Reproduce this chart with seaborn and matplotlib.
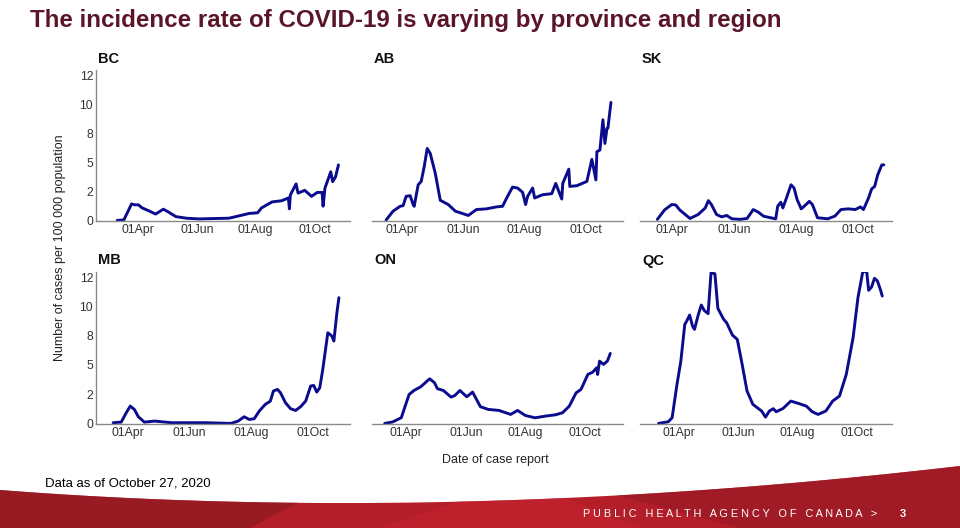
import numpy as np
import pandas as pd
import matplotlib
matplotlib.use("Agg")
import matplotlib.pyplot as plt
import matplotlib.dates as mdates
from matplotlib.patches import Polygon
import seaborn as sns

# ---- data (rate per 100 000, 2020) ----
provinces = ["BC", "AB", "SK", "MB", "ON", "QC"]

bc_dates = ["03-10", "03-17", "03-25", "03-28", "04-01", "04-05", "04-10", "04-19", "04-27",
            "05-02", "05-10", "05-21", "06-03", "06-17", "07-04", "07-15", "07-25", "08-03",
            "08-07", "08-18", "08-28", "09-04", "09-05", "09-06", "09-12", "09-14", "09-21",
            "09-28", "10-04", "10-09", "10-10", "10-12", "10-18", "10-20", "10-23", "10-26"]
bc_rate = [0.0, 0.05, 1.43, 1.35, 1.35, 1.08, 0.9, 0.55, 0.97,
           0.74, 0.33, 0.19, 0.13, 0.16, 0.19, 0.4, 0.6, 0.66,
           1.08, 1.6, 1.7, 1.94, 1.0, 2.2, 3.16, 2.36, 2.6,
           2.08, 2.42, 2.42, 1.23, 2.8, 4.2, 3.35, 3.77, 4.8]

ab_dates = ["03-16", "03-23", "03-30", "04-02", "04-05", "04-09", "04-12", "04-13", "04-17",
            "04-20", "04-23", "04-26", "04-29", "05-04", "05-09", "05-17", "05-24", "05-31",
            "06-06", "06-14", "06-24", "07-04", "07-10", "07-15", "07-20", "07-25", "07-30",
            "08-02", "08-04", "08-09", "08-11", "08-19", "08-28", "09-01", "09-07", "09-08",
            "09-14", "09-15", "09-22", "10-02", "10-07", "10-11", "10-12", "10-15", "10-18",
            "10-20", "10-22", "10-23", "10-26"]
ab_rate = [0.03, 0.8, 1.22, 1.28, 2.08, 2.14, 1.37, 1.22, 3.08,
           3.37, 4.65, 6.22, 5.79, 4.08, 1.74, 1.37, 0.8, 0.6,
           0.43, 0.94, 1.0, 1.17, 1.22, 2.08, 2.88, 2.8, 2.43,
           1.37, 2.08, 2.8, 1.94, 2.22, 2.31, 3.2, 1.85, 3.2,
           4.43, 2.94, 3.0, 3.37, 5.28, 3.5, 5.94, 6.08, 8.7,
           6.65, 7.94, 8.0, 10.2]

sk_dates = ["03-18", "03-25", "04-01", "04-05", "04-09", "04-19", "04-27", "05-04", "05-07",
            "05-10", "05-15", "05-20", "05-25", "05-30", "06-07", "06-14", "06-20", "06-25",
            "06-30", "07-07", "07-12", "07-14", "07-17", "07-19", "07-22", "07-27", "07-30",
            "08-02", "08-06", "08-09", "08-14", "08-17", "08-22", "09-01", "09-08", "09-14",
            "09-21", "09-28", "10-03", "10-06", "10-11", "10-14", "10-17", "10-20", "10-24",
            "10-26"]
sk_rate = [0.09, 0.9, 1.37, 1.34, 0.9, 0.17, 0.51, 1.08, 1.71,
           1.37, 0.51, 0.31, 0.43, 0.14, 0.09, 0.17, 0.94, 0.71,
           0.37, 0.23, 0.14, 1.23, 1.57, 1.08, 1.8, 3.08, 2.8,
           1.8, 1.0, 1.23, 1.65, 1.37, 0.23, 0.14, 0.37, 0.94,
           1.0, 0.94, 1.17, 0.94, 1.94, 2.71, 2.94, 3.94, 4.8,
           4.8]

mb_dates = ["03-17", "03-25", "03-30", "04-03", "04-07", "04-11", "04-17", "04-27", "05-14",
            "06-16", "07-12", "07-19", "07-25", "07-30", "08-04", "08-09", "08-15", "08-20",
            "08-23", "08-27", "08-30", "09-04", "09-09", "09-14", "09-19", "09-24", "09-29",
            "10-02", "10-05", "10-08", "10-11", "10-16", "10-20", "10-22", "10-25", "10-27"]
mb_rate = [0.06, 0.11, 0.91, 1.48, 1.2, 0.57, 0.11, 0.2, 0.06,
           0.06, 0.0, 0.2, 0.57, 0.34, 0.4, 1.06, 1.63, 1.91,
           2.77, 2.91, 2.63, 1.77, 1.26, 1.11, 1.43, 1.91, 3.2,
           3.25, 2.68, 3.05, 4.62, 7.76, 7.48, 7.05, 9.47, 10.76]

on_dates = ["03-10", "03-18", "03-27", "04-04", "04-09", "04-16", "04-25", "04-30", "05-03",
            "05-09", "05-17", "05-21", "05-26", "06-02", "06-08", "06-16", "06-24", "07-05",
            "07-17", "07-24", "08-01", "08-11", "08-22", "09-01", "09-08", "09-15", "09-22",
            "09-27", "10-04", "10-09", "10-13", "10-14", "10-16", "10-20", "10-24", "10-27"]
on_rate = [0.0, 0.12, 0.49, 2.48, 2.82, 3.14, 3.82, 3.48, 2.97,
           2.82, 2.25, 2.4, 2.82, 2.28, 2.68, 1.43, 1.2, 1.11,
           0.77, 1.11, 0.68, 0.48, 0.63, 0.74, 0.91, 1.48, 2.62,
           2.91, 4.19, 4.39, 4.76, 4.19, 5.33, 5.05, 5.33, 5.99]

qc_dates = ["03-11", "03-21", "03-25", "03-30", "04-03", "04-07", "04-09", "04-12", "04-15",
            "04-17", "04-21", "04-24", "04-27", "05-01", "05-04", "05-08", "05-11", "05-17",
            "05-20", "05-26", "05-31", "06-05", "06-10", "06-16", "06-25", "06-29", "07-03",
            "07-07", "07-10", "07-17", "07-25", "08-03", "08-10", "08-16", "08-22", "08-30",
            "09-06", "09-13", "09-20", "09-27", "10-02", "10-07", "10-11", "10-13", "10-16",
            "10-19", "10-22", "10-25", "10-27"]
qc_rate = [0.0, 0.14, 0.48, 3.34, 5.34, 8.47, 8.76, 9.27, 8.33,
           8.05, 9.33, 10.13, 9.67, 9.39, 12.9, 12.8, 9.85, 8.9,
           8.62, 7.56, 7.19, 5.05, 2.77, 1.63, 1.06, 0.54, 1.06,
           1.26, 1.0, 1.28, 1.91, 1.68, 1.48, 1.0, 0.77, 1.06,
           1.91, 2.34, 4.19, 7.33, 10.76, 12.99, 12.99, 11.39, 11.67,
           12.42, 12.19, 11.47, 10.9]

# each facet has its own date range on the original
x_ranges = {"BC": ("02-17", "11-07"), "AB": ("03-02", "11-07"), "SK": ("03-01", "11-03"),
            "MB": ("02-29", "11-07"), "ON": ("02-26", "11-09"), "QC": ("02-21", "11-06")}

x_ticks = ["04-01", "06-01", "08-01", "10-01"]
y_ticks = [0, 2.5, 5, 7.5, 10, 12.5]
y_tick_labels = ["0", "2", "5", "8", "10", "12"]

series = {"BC": (bc_dates, bc_rate), "AB": (ab_dates, ab_rate), "SK": (sk_dates, sk_rate),
          "MB": (mb_dates, mb_rate), "ON": (on_dates, on_rate), "QC": (qc_dates, qc_rate)}

frames = []
for prov, (d, r) in series.items():
    frames.append(pd.DataFrame({"province": prov,
                                "date": pd.to_datetime(["2020-" + s for s in d]),
                                "rate": r}))
df = pd.concat(frames, ignore_index=True)

# ---- figure ----
sns.set_theme(style="white")
plt.rcParams["font.family"] = ["Liberation Sans", "DejaVu Sans"]

W, H = 960, 528
fig = plt.figure(figsize=(W / 100, H / 100), dpi=100)
fig.patch.set_facecolor("white")

# background layer for slide decoration (pixel coords)
bg = fig.add_axes([0, 0, 1, 1])
bg.set_xlim(0, W)
bg.set_ylim(H, 0)
bg.axis("off")

t = np.linspace(0, 1, 200)
cx = 2 * (1 - t) * t * 450 + t ** 2 * 960
cy = (1 - t) ** 2 * 490 + 2 * (1 - t) * t * 525 + t ** 2 * 466
band = Polygon(np.column_stack([np.r_[cx, 960, 0], np.r_[cy, 528, 528]]), closed=True,
               facecolor="#b41e29", edgecolor="none")
bg.add_patch(band)
for pts, col in [([[0, 480], [340, 480], [250, 528], [0, 528]], "#8f1a22"),
                 ([[560, 480], [960, 440], [960, 528], [740, 528]], "#9b1b25"),
                 ([[380, 528], [520, 480], [640, 528]], "#c2232d")]:
    p = Polygon(pts, closed=True, facecolor=col, edgecolor="none", alpha=0.75)
    bg.add_patch(p)
    p.set_clip_path(band)

fig.text(30 / W, 1 - 20 / H, "The incidence rate of COVID-19 is varying by province and region",
         fontsize=17.4, fontweight="bold", color="#5a1528", va="center", ha="left")
fig.text(45 / W, 1 - 483 / H, "Data as of October 27, 2020", fontsize=9.5,
         color="black", va="center", ha="left")
fig.text(583 / W, 1 - 514 / H, "P U B L I C   H E A L T H   A G E N C Y   O F   C A N A D A   >",
         fontsize=7.8, color="white", va="center", ha="left")
fig.text(903 / W, 1 - 514 / H, "3", fontsize=8, fontweight="bold", color="white",
         va="center", ha="center")

fig.text(60 / W, 1 - 248 / H, "Number of cases per 100 000 population", rotation=90,
         fontsize=9, color="#222222", va="center", ha="center")
fig.text(495 / W, 1 - 460 / H, "Date of case report", fontsize=9, color="#222222",
         va="center", ha="center")

# panel boxes in pixels: left, top, right, bottom
col_px = [(96, 350), (372, 623), (640, 892)]
row_px = [(70, 221), (271.5, 424)]

for i, prov in enumerate(provinces):
    r, c = divmod(i, 3)
    x0, x1 = col_px[c]
    y0, y1 = row_px[r]
    ax = fig.add_axes([x0 / W, 1 - y1 / H, (x1 - x0) / W, (y1 - y0) / H])
    sub = df[df["province"] == prov]
    sns.lineplot(data=sub, x="date", y="rate", ax=ax, color="#0b0b8e", linewidth=2.1)
    ax.set_facecolor("none")
    lo, hi = x_ranges[prov]
    ax.set_xlim(pd.Timestamp("2020-" + lo), pd.Timestamp("2020-" + hi))
    ax.set_ylim(-0.05, 13)
    ax.set_xticks(pd.to_datetime(["2020-" + s for s in x_ticks]))
    ax.xaxis.set_major_formatter(mdates.DateFormatter("%d%b"))
    ax.set_yticks(y_ticks)
    ax.set_xlabel("")
    ax.set_ylabel("")
    ax.tick_params(length=0, labelsize=8.8, labelcolor="#333333", pad=2)
    for s in ["top", "right"]:
        ax.spines[s].set_visible(False)
    ax.spines["bottom"].set_color("#8a8a8a")
    ax.spines["bottom"].set_linewidth(1.0)
    if c == 0:
        ax.set_yticklabels(y_tick_labels)
        ax.spines["left"].set_color("#8a8a8a")
        ax.spines["left"].set_linewidth(1.0)
    else:
        ax.set_yticklabels([])
        ax.spines["left"].set_visible(False)
    ax.text(x0 / W + 2 / W, 1 - (y0 - 11) / H, prov, transform=fig.transFigure,
            fontsize=10.5, fontweight="bold", color="#111111", va="center", ha="left")

fig.savefig("out.png", dpi=100)
